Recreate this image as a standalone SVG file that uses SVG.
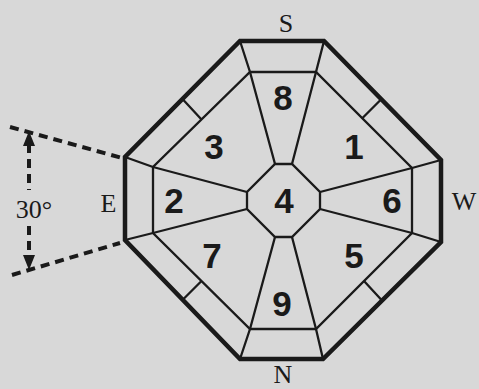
<svg xmlns="http://www.w3.org/2000/svg" width="479" height="389" viewBox="0 0 479 389">
<style>
.bg{fill:#d8d8d8}
.outer{fill:none;stroke:#1a1a1a;stroke-width:4.5;stroke-linejoin:miter}
.ln{fill:none;stroke:#1a1a1a;stroke-width:2.3;stroke-linejoin:miter}
.dash{fill:none;stroke:#1a1a1a;stroke-width:4;stroke-dasharray:9 6}
.num{font-family:"Liberation Sans",Arial,sans-serif;font-weight:bold;font-size:35px;fill:#1a1a1a;text-anchor:middle}
.dir{font-family:"Liberation Serif","Times New Roman",serif;font-size:26px;fill:#1a1a1a;text-anchor:middle}
</style>
<rect class="bg" x="0" y="0" width="479" height="389"/>
<g id="connectors">
<polygon class="ln" points="250,72 316,72 412,168 412,233 316,329 250,329 153,233 153,167"/>
<polygon class="ln" points="275,164 292,164 320,192 320,209 292,237 275,237 247,209 247,192"/>
<path class="ln" d="M240,41 L250,72 M324,41 L316,72 M441,160 L412,168 M441,242 L412,233 M323,359 L316,329 M240,359 L250,329 M125,240 L153,233 M125,157 L153,167"/>
<path class="ln" d="M275,164 L250,72 M292,164 L316,72 M320,192 L412,168 M320,209 L412,233 M292,237 L316,329 M275,237 L250,329 M247,209 L153,233 M247,192 L153,167"/>
<path class="ln" d="M182.5,99 L201.5,119.5 M381.5,99 L362,118.5 M182.5,300 L201.5,281 M382,300.5 L364,281"/>
<polygon class="outer" points="240,41 324,41 441,160 441,242 323,359 240,359 125,240 125,157"/>
<path class="dash" d="M10,127 L122,158 M12,275 L120,243"/>
<path class="dash" d="M29,144 L29,190 M29,226 L29,258" stroke-dasharray="8 6"/>
<path d="M29,131 L23,146 L35,146 Z M29,270 L23,255 L35,255 Z" fill="#1a1a1a"/>
</g>
<g id="zone8"><text class="num" x="283" y="110">8</text></g>
<g id="zone3"><text class="num" x="214" y="159">3</text></g>
<g id="zone1"><text class="num" x="354" y="159">1</text></g>
<g id="zone2"><text class="num" x="174" y="213">2</text></g>
<g id="zone4"><text class="num" x="284" y="213">4</text></g>
<g id="zone6"><text class="num" x="392" y="213">6</text></g>
<g id="zone7"><text class="num" x="212" y="268">7</text></g>
<g id="zone5"><text class="num" x="354" y="268">5</text></g>
<g id="zone9"><text class="num" x="282" y="316">9</text></g>
<g id="S"><text class="dir" x="286" y="32">S</text></g>
<g id="N"><text class="dir" x="283" y="383">N</text></g>
<g id="E"><text class="dir" x="108.5" y="212">E</text></g>
<g id="W"><text class="dir" x="464" y="210">W</text></g>
<g id="angle"><text class="dir" x="34" y="218" font-size="27">30°</text></g>
</svg>
